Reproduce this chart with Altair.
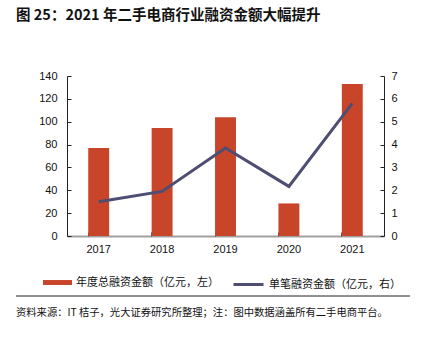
import altair as alt
import pandas as pd

years = ["2017", "2018", "2019", "2020", "2021"]
total = [77, 94.5, 104, 28.5, 133]          # 年度总融资金额（亿元，左）
single = [1.5, 1.95, 3.85, 2.17, 5.8]       # 单笔融资金额（亿元，右）
left_ticks = [0, 20, 40, 60, 80, 100, 120, 140]
right_ticks = [0, 1, 2, 3, 4, 5, 6, 7]
bar_name = "年度总融资金额（亿元，左）"
line_name = "单笔融资金额（亿元，右）"
title_text = "图 25：2021 年二手电商行业融资金额大幅提升"
source_text = "资料来源：IT 桔子，光大证券研究所整理；注：图中数据涵盖所有二手电商平台。"

BAR_COLOR = "#C8452A"
LINE_COLOR = "#4E4D72"
W, H = 317, 160
LAT = "Liberation Sans"
CJK = "Noto Sans CJK SC"

df = pd.DataFrame({"year": years, "total": total, "single": single,
                   "s1": [bar_name] * 5, "s2": [line_name] * 5})
one = pd.DataFrame({"t": [title_text], "s": [source_text]})

xscale = alt.Scale(paddingInner=0.67, paddingOuter=0.335)
lscale = alt.Scale(domain=[0, 140])
rscale = alt.Scale(domain=[0, 7])

bars = alt.Chart(df).mark_bar(color=BAR_COLOR).encode(
    x=alt.X("year:N", scale=xscale, sort=years,
            axis=alt.Axis(title=None, labelAngle=0, ticks=False, domainColor="#A0A0A0",
                          domainWidth=2, labelFont=LAT, labelFontSize=11, labelColor="#111",
                          labelPadding=7)),
    y=alt.Y("total:Q", scale=lscale,
            axis=alt.Axis(title=None, orient="left", values=left_ticks, ticks=False,
                          grid=False, domainColor="#222", labelFont=LAT, labelFontSize=11,
                          labelColor="#111", labelPadding=10)),
    color=alt.Color("s1:N", scale=alt.Scale(domain=[bar_name], range=[BAR_COLOR]),
                    legend=alt.Legend(title=None, orient="none", legendX=-24, legendY=192,
                                      symbolType="M-1,-0.17H1V0.17H-1Z", symbolSize=841,
                                      symbolStrokeWidth=0, symbolOpacity=1,
                                      labelFont=CJK, labelFontSize=11, labelColor="#111",
                                      labelOffset=4)),
)

tick_bars = alt.Chart(df).mark_bar(opacity=0).encode(
    x=alt.X("year:N", scale=xscale, sort=years,
            axis=alt.Axis(title=None, orient="top", offset=-H, labels=False, domain=False,
                          ticks=True, tickSize=4, tickColor="#555", bandPosition=0)),
    y=alt.Y("total:Q", scale=lscale,
            axis=alt.Axis(title=None, orient="right", offset=-W, values=left_ticks,
                          labels=False, domain=False, grid=False, tickSize=4,
                          tickColor="#222")),
)

line = alt.Chart(df).mark_line(color=LINE_COLOR, strokeWidth=3).encode(
    x=alt.X("year:N", scale=xscale, sort=years, axis=None),
    y=alt.Y("single:Q", scale=rscale,
            axis=alt.Axis(title=None, orient="right", values=right_ticks, ticks=False,
                          grid=False, domainColor="#222", labelFont=LAT, labelFontSize=11,
                          labelColor="#111", labelPadding=7)),
    stroke=alt.Stroke("s2:N", scale=alt.Scale(domain=[line_name], range=[LINE_COLOR]),
                      legend=alt.Legend(title=None, orient="none", legendX=165, legendY=192,
                                        symbolType="stroke", symbolSize=900,
                                        symbolStrokeWidth=3,
                                        labelFont=CJK, labelFontSize=11, labelColor="#111",
                                        labelOffset=4)),
)

tick_line = alt.Chart(df).mark_line(opacity=0).encode(
    x=alt.X("year:N", scale=xscale, sort=years, axis=None),
    y=alt.Y("single:Q", scale=rscale,
            axis=alt.Axis(title=None, orient="left", offset=-W, values=right_ticks,
                          labels=False, domain=False, grid=False, tickSize=4,
                          tickColor="#222")),
)

title = alt.Chart(one).mark_text(align="left", baseline="middle", font=CJK,
                                 fontSize=14.5, fontWeight="bold", color="#111").encode(
    text="t:N", x=alt.value(-51), y=alt.value(-60))

sep = alt.Chart(one).mark_rule(color="#222", strokeWidth=1).encode(
    x=alt.value(-51), x2=alt.value(343), y=alt.value(220))

source = alt.Chart(one).mark_text(align="left", baseline="middle", font=CJK,
                                  fontSize=10.3, color="#111").encode(
    text="s:N", x=alt.value(-51), y=alt.value(237))

chart = alt.layer(bars, tick_bars, line, tick_line, title, sep, source).resolve_scale(
    y="independent", color="independent", stroke="independent"
).resolve_axis(x="independent", y="independent").properties(
    width=W, height=H,
    padding={"left": 67, "top": 76, "right": 40, "bottom": 102},
    autosize=alt.AutoSizeParams(type="none"),
).configure_view(stroke=None)

chart.save("out.html", embed_options={"renderer": "svg", "actions": False})
